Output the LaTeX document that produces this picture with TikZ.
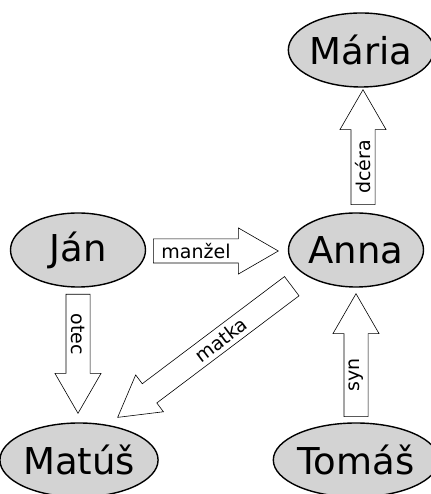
\documentclass[tikz,border=0pt]{standalone}
\usepackage{fontspec}
\setmainfont{DejaVu Sans}
\usepackage{tikz}
\usetikzlibrary{shapes, shapes.arrows, calc}
\definecolor{persongray}{HTML}{D3D3D3}

\begin{document}
\begin{tikzpicture}[x=1pt, y=1pt,
  person/.style={ellipse, draw, line width=1.4pt, fill=persongray, minimum width=135pt, minimum height=74pt, inner sep=0pt, font=\fontsize{37}{40}\selectfont},
  rel/.style={single arrow, draw, line width=0.6pt, fill=white, single arrow head extend=11pt, single arrow tip angle=60, inner xsep=4pt, inner ysep=4pt, text height=12pt, text depth=3.5pt, anchor=tail},
  relname/.style={inner sep=0pt, font=\fontsize{19}{22}\selectfont}]
  \useasboundingbox (0,0) rectangle (430,494);
  \node[person] (maria) at (361,444) {Mária};
  \node[person] (jan) at (78,244) {Ján};
  \node[person] (anna) at (356,244) {Anna};
  \node[person] (matus) at (79,34) {Matúš};
  \node[person, minimum width=146pt] (tomas) at (356,34) {Tomáš};
  % relations
  \node[rel, minimum height=125pt] (manzel) at (153,243) {};
  \node[rel, minimum height=119pt, rotate=-90] (otec) at (78,200) {};
  \node[rel, minimum height=123pt, rotate=90] (syn) at (356,77) {};
  \node[rel, minimum height=115pt, rotate=90] (dcera) at (363,289) {};
  \node[rel, minimum height=218pt, shape border rotate=180, rotate=37] (matka) at (292,208) {};
  % labels in the shafts
  \node[relname] at ($(manzel.tail)!43pt!(manzel.tip)$) {manžel};
  \node[relname, rotate=-90] at ($(otec.tail)!40pt!(otec.tip)$) {otec};
  \node[relname, rotate=90] at ($(syn.tail)!42pt!(syn.tip)$) {syn};
  \node[relname, rotate=90] at ($(dcera.tail)!38pt!(dcera.tip)$) {dcéra};
  \node[relname, rotate=37] at ($(matka.tail)!89pt!(matka.tip)$) {matka};
\end{tikzpicture}
\end{document}
